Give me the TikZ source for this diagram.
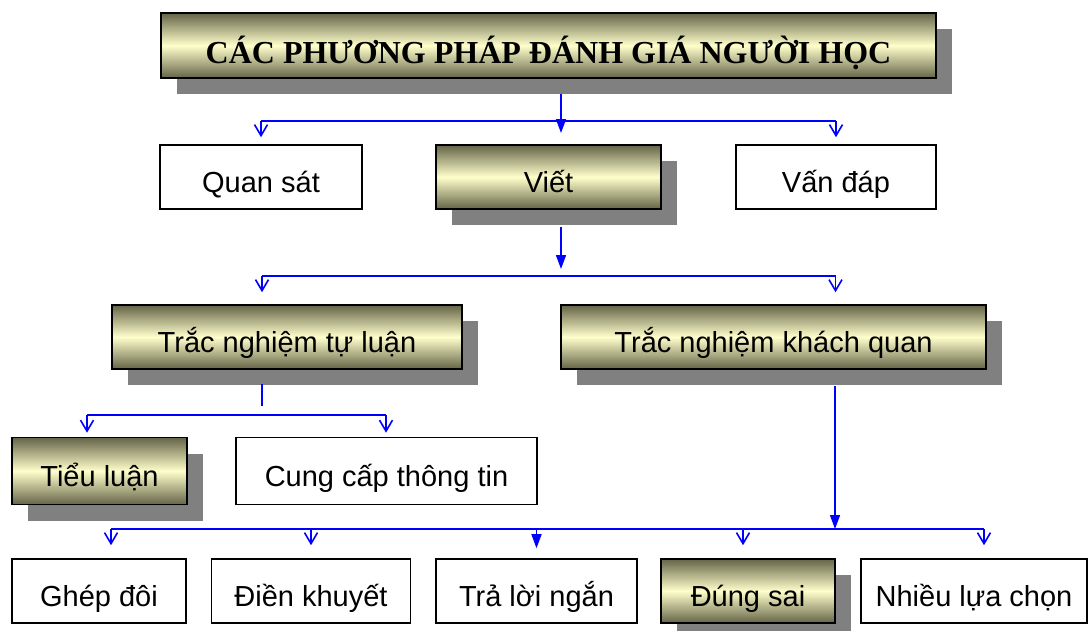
\documentclass[tikz,border=0pt]{standalone}
\usepackage{fontspec}
\setmainfont{Liberation Sans}
\newfontfamily\titlefont{Liberation Serif}
\usetikzlibrary{arrows.meta,shadows}
\definecolor{boxdark}{RGB}{100,100,72}
\definecolor{boxlight}{RGB}{255,255,204}
\definecolor{shadowgray}{RGB}{128,128,128}
\definecolor{linkblue}{RGB}{0,0,255}

\begin{document}
\begin{tikzpicture}[x=1pt, y=-1pt,
  box/.style = {draw, line width=1.6pt, fill=white, inner sep=0pt, minimum height=64pt,
    text height=30pt, text depth=0pt, font=\fontsize{29}{34}\selectfont},
  shadebox/.style = {box, top color=boxdark, bottom color=boxdark, middle color=boxlight,
    drop shadow={shadow xshift=16pt, shadow yshift=-16pt, fill=shadowgray, opacity=1}},
  link/.style = {draw=linkblue, line width=1.6pt},
  fillarrow/.style = {link, -{Triangle[length=14pt,width=10pt]}},
  openarrow/.style = {link, -{Straight Barb[length=11pt,width=13pt]}}]
\useasboundingbox (0,0) rectangle (1091,630);
\node[shadebox, minimum width=775pt, minimum height=65pt, text height=35pt,
  font=\titlefont\bfseries\fontsize{32}{38}\selectfont] (title) at (548.5,45.5) {CÁC PHƯƠNG PHÁP ĐÁNH GIÁ NGƯỜI HỌC};
% second level
\node[box, minimum width=202pt] (quan) at (261,177) {Quan sát};
\node[shadebox, minimum width=225pt] (viet) at (548.5,177) {Viết};
\node[box, minimum width=200pt] (vandap) at (836,177) {Vấn đáp};
% third level
\node[shadebox, minimum width=350pt] (tuluan) at (287,337) {Trắc nghiệm tự luận};
\node[shadebox, minimum width=425pt] (khachquan) at (773.5,337) {Trắc nghiệm khách quan};
% fourth level
\node[shadebox, minimum width=175pt, minimum height=67pt] (tieuluan) at (99.5,471) {Tiểu luận};
\node[box, minimum width=301pt, minimum height=67pt] (cungcap) at (386.5,471) {Cung cấp thông tin};
% last level
\node[box, minimum width=174pt] (ghep) at (99,591) {Ghép đôi};
\node[box, minimum width=199pt] (dien) at (311,591) {Điền khuyết};
\node[box, minimum width=201pt] (tra) at (536.5,591) {Trả lời ngắn};
\node[shadebox, minimum width=174pt] (dung) at (748,591) {Đúng sai};
\node[box, minimum width=226pt] (nhieu) at (974,591) {Nhiều lựa chọn};
% title -> second level
\coordinate (b1) at (561,121);
\draw[fillarrow] ([yshift=-15pt]title.south -| b1) -- ([yshift=-12pt]b1);
\draw[link] (quan.north |- b1) -- (vandap.north |- b1);
\draw[openarrow] (quan.north |- b1) -- ([yshift=7pt]quan.north);
\draw[openarrow] (vandap.north |- b1) -- ([yshift=7pt]vandap.north);
% viet -> third level
\coordinate (b2) at (561,276);
\coordinate (l2) at (262,276);
\coordinate (r2) at (835.5,276);
\draw[fillarrow] ([yshift=-17pt]viet.south -| b2) -- ([yshift=7pt]b2);
\draw[link] (l2) -- (r2);
\draw[openarrow] (l2) -- ([yshift=12pt]tuluan.north -| l2);
\draw[openarrow] (r2) -- ([yshift=12pt]khachquan.north -| r2);
% tu luan -> fourth level
\coordinate (b3) at (262,415);
\coordinate (l3) at (87,415);
\coordinate (r3) at (386,415);
\draw[link] ([yshift=-14pt]tuluan.south -| b3) -- ([yshift=9pt]b3);
\draw[link] (l3) -- (r3);
\draw[openarrow] (l3) -- ([yshift=4pt]tieuluan.north -| l3);
\draw[openarrow] (r3) -- ([yshift=4pt]cungcap.north -| r3);
% khach quan -> last level
\coordinate (b4) at (835,529);
\coordinate (l4) at (111,529);
\coordinate (r4) at (984,529);
\draw[fillarrow] ([yshift=-16pt]khachquan.south -| b4) -- (b4);
\draw[link] (l4) -- (r4);
\foreach \n/\dx in {ghep/12, dien/0, dung/-5, nhieu/10}
  \draw[openarrow] ([xshift=\dx pt]\n.north |- l4) -- ([xshift=\dx pt, yshift=13pt]\n.north);
\draw[fillarrow] (tra.north |- l4) -- ([yshift=10pt]tra.north);
\end{tikzpicture}
\end{document}
